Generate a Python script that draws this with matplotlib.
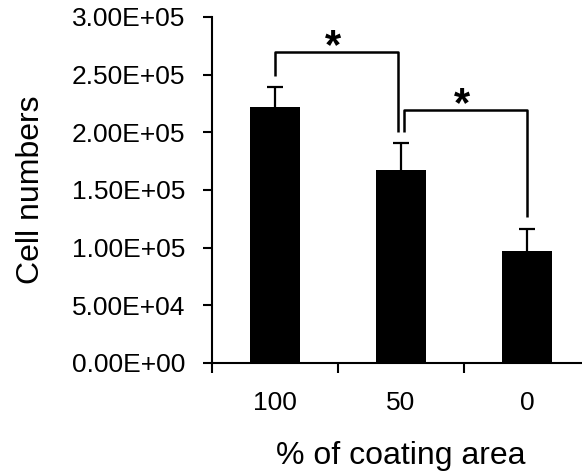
import matplotlib
matplotlib.use("Agg")
from matplotlib import pyplot as plt
import numpy as np

plt.rcParams['font.family'] = ['Liberation Sans', 'DejaVu Sans']

categories = ['100', '50', '0']
cell_numbers = [2.22e5, 1.675e5, 9.7e4]
errors = [1.7e4, 2.3e4, 1.95e4]

# significance brackets: (bar a, bar b, bracket top)
pairs = [(0, 1), (1, 2)]
bracket_tops = [2.70e5, 2.195e5]
star_labels = ['*', '*']

yticks = np.arange(0, 3.01e5, 5e4)

fig = plt.figure(figsize=(5.82, 4.76), dpi=100)
ax = fig.add_axes([0.3643, 0.2374, 0.6495, 0.7269])

x = np.arange(len(categories))
vals = np.array(cell_numbers)
tops = vals + np.array(errors)
ax.bar(x, vals, width=0.4, color='black', zorder=2)
# one-sided error bars (upper only)
ax.vlines(x, vals, tops, color='black', lw=1.6, zorder=1)
ax.hlines(tops, x - 0.06, x + 0.06, color='black', lw=1.6, zorder=1)

ax.set_xlim(-0.5, 2.5)
ax.set_ylim(0, 3e5)
ax.set_yticks(yticks)
ax.set_yticklabels(['%.2E' % v for v in yticks])

ax.set_xticks(x)
ax.set_xticklabels(categories)
ax.set_xticks(np.arange(-0.5, 2.6, 1.0), minor=True)
ax.tick_params(axis='x', which='major', length=0, pad=20, labelsize=19)
ax.tick_params(axis='x', which='minor', length=7, width=1.5, direction='out')
ax.tick_params(axis='y', length=6.5, width=1.5, pad=13, labelsize=19)

for s in ['top', 'right']:
    ax.spines[s].set_visible(False)
for s in ['left', 'bottom']:
    ax.spines[s].set_linewidth(1.5)

ax.set_ylabel('Cell numbers', fontsize=23, labelpad=18)
ax.set_xlabel('% of coating area', fontsize=23, labelpad=19)

gap = 1.0e4
shift = 0.024
for (a, b), top, star in zip(pairs, bracket_tops, star_labels):
    xa = a + (shift if a == 1 else 0)
    xb = b - (shift if b == 1 else 0)
    ya = tops[a] + gap if a != 1 else 2.0e5
    yb = tops[b] + gap if b != 1 else 2.0e5
    ax.plot([xa, xa, xb, xb], [ya, top, top, yb], color='black', lw=1.8,
            solid_capstyle='butt', clip_on=False)
    ax.text((xa + xb) / 2 - 0.025, top - 0.13e5, star, ha='center', va='bottom',
            fontsize=30, fontweight='bold')

fig.savefig('out.png', dpi=100)
